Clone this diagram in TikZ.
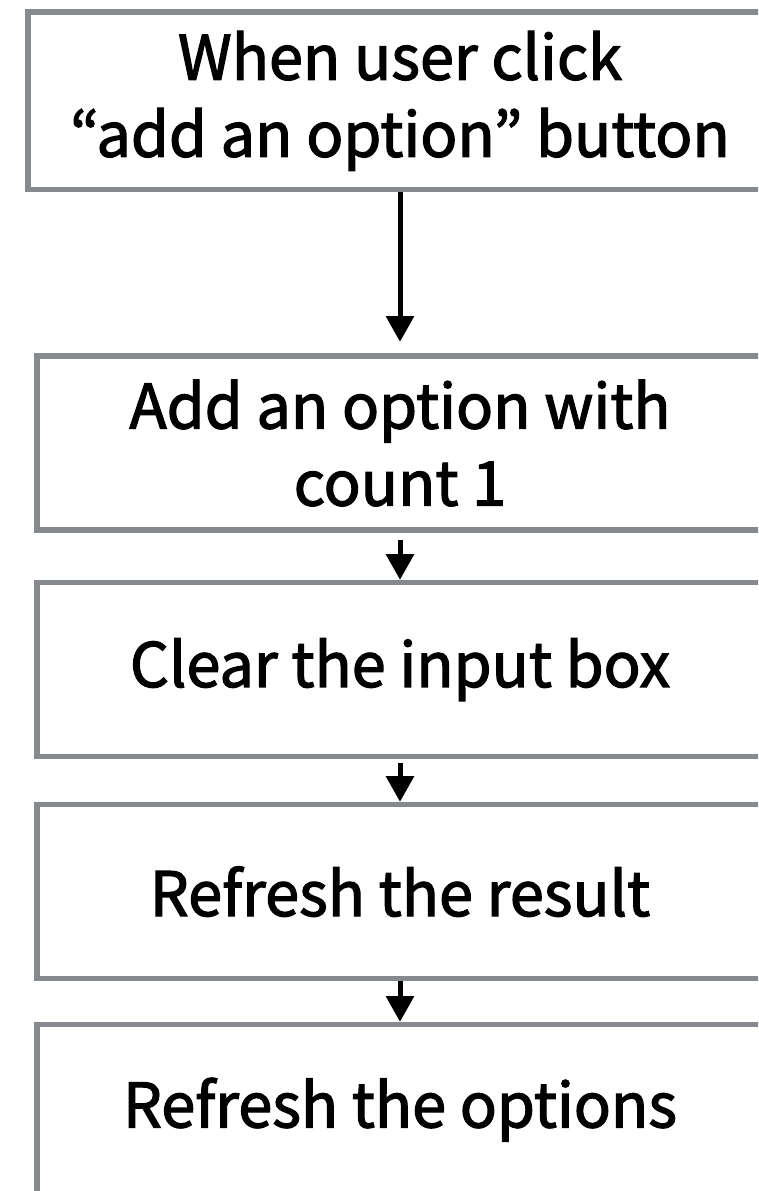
\documentclass[tikz,border=0pt]{standalone}
\usepackage{fontspec}
\setmainfont{Noto Sans CJK KR}
\newfontfamily\stepfont{Noto Sans CJK KR}[FakeBold=2]
\usepackage{tikz}
\usetikzlibrary{arrows.meta}
\definecolor{boxgray}{RGB}{134, 138, 142}

\begin{document}
\begin{tikzpicture}[
    stepbox/.style={draw=boxgray, line width=0.14cm, minimum width=18.15cm, minimum height=4.35cm, align=center, font=\stepfont\fontsize{43.6}{54.8}\selectfont},
    arrow/.style={-{Triangle[width=0.68cm, length=0.64cm]}, line width=0.125cm}
]
    \clip (0,0) rectangle (18.95,-29.775);
    % Steps
    \node[stepbox, minimum width=18.6cm, minimum height=4.44cm] (click) at (10,-2.52) {When user click\\“add an option” button};
    \node[stepbox, minimum height=4.36cm] (addopt) at (10,-11.075) {Add an option with\\count 1};
    \node[stepbox] (clearbox) at (10,-16.74) {Clear the input box};
    \node[stepbox] (result) at (10,-22.29) {Refresh the result};
    \node[stepbox, minimum height=4.25cm] (options) at (10,-27.74) {Refresh the options};

    % Arrows
    \draw[arrow, shorten >=0.28cm] (click.south) -- (addopt.north);
    \draw[arrow, shorten <=0.17cm] (addopt.south) -- (clearbox.north);
    \draw[arrow, shorten <=0.1cm] (clearbox.south) -- (result.north);
    \draw[arrow] (result.south) -- (options.north);
\end{tikzpicture}
\end{document}
